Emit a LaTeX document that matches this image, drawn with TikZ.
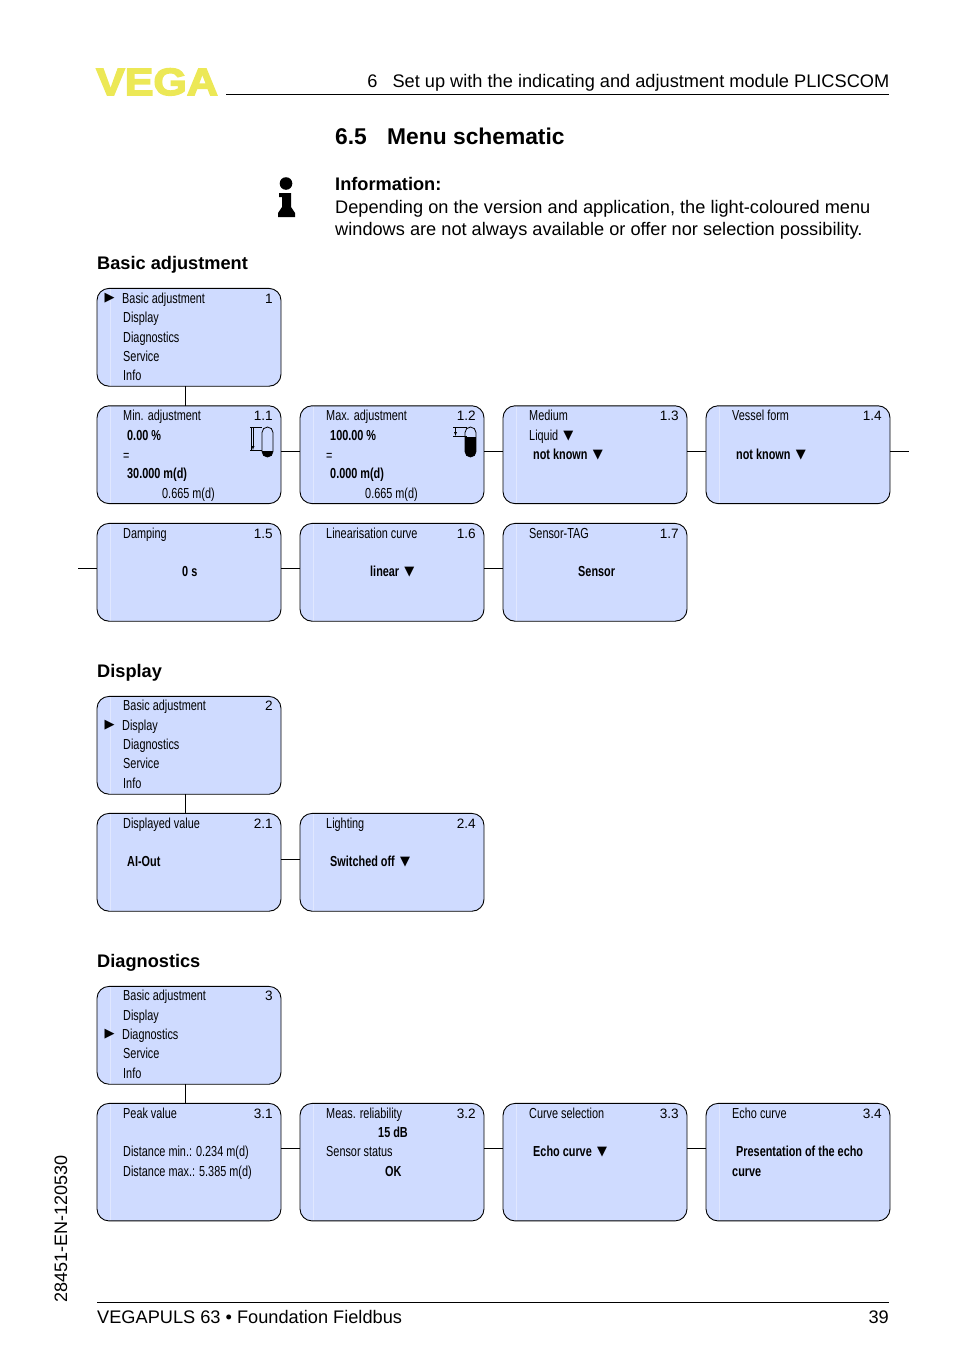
\documentclass[tikz,border=0pt]{standalone}
\usepackage{fontspec}
\setmainfont{Liberation Sans}
\newfontfamily\narrowfont[FakeStretch=0.75]{Liberation Sans}
\newfontfamily\logofont[FakeBold=4,FakeStretch=1.13]{Liberation Sans Bold}
\newfontfamily\symfont{DejaVu Sans}
\definecolor{boxblue}{RGB}{207,219,255}
\definecolor{boxstrip}{RGB}{224,231,255}
\definecolor{vegayellow}{RGB}{236,232,86}
\newcommand{\dn}{{\symfont\fontsize{13}{13}\selectfont\,\raisebox{1pt}{▼}}}
\begin{document}
\begin{tikzpicture}[
    x=1pt, y=-1pt,
    menubox/.style={draw=black, line width=0.9pt, fill=boxblue, rounded corners=12pt, anchor=north west, outer sep=0pt, minimum width=184pt, minimum height=97.8pt, inner sep=0pt,
        path picture={\draw[boxstrip, line width=0.8pt] ([xshift=13pt]path picture bounding box.north west) -- ([xshift=13pt]path picture bounding box.south west);}},
    tallbox/.style={menubox, minimum height=117.5pt},
    menutext/.style={anchor=base west, inner sep=0pt, font=\narrowfont\fontsize{14.5}{16}\selectfont},
    menubold/.style={anchor=base west, inner sep=0pt, font=\narrowfont\bfseries\fontsize{14.5}{16}\selectfont},
    menunum/.style={anchor=base east, inner sep=0pt, font=\fontsize{13.6}{16}\selectfont},
    marker/.style={anchor=center, inner sep=0pt, font=\symfont\fontsize{13}{13}\selectfont},
    heading/.style={anchor=base west, inner sep=0pt, font=\bfseries\fontsize{18.2}{22}\selectfont},
    bodytext/.style={anchor=base west, inner sep=0pt, font=\fontsize{18.2}{22}\selectfont},
    link/.style={draw=black, line width=0.9pt}
]
\useasboundingbox (0,0) rectangle (954,1354);

% page head
\node[anchor=base west, inner sep=0pt, text=vegayellow, font=\logofont\fontsize{38}{38}\selectfont] (logo) at (96,95) {VEGA};
\coordinate (headl) at (226,94.5);
\coordinate (headr) at (889,94.5);
\draw[line width=0.9pt] (headl) -- (headr);
\node[anchor=base east, inner sep=0pt, font=\fontsize{18.2}{22}\selectfont] (chapter) at (889.5,88) {6\hspace{10pt} Set up with the indicating and adjustment module PLICSCOM};
\node[anchor=base west, inner sep=0pt, font=\bfseries\fontsize{22.8}{26}\selectfont] (section) at (335,144.5) {6.5\hspace{14pt} Menu schematic};

% information
\fill (286,183.5) circle (6.3);
\fill (279,193) -- (291,193) -- (291,207) -- (295,213) -- (295,217) -- (278,217) -- (278,213) -- (282,207) -- (282,197) -- (279,197) -- cycle;
\node[heading] (infohead) at (335,190) {Information:};
\node[bodytext] (info1) at (335,213) {Depending on the version and application, the light-coloured menu};
\node[bodytext] (info2) at (335,235) {windows are not always available or offer nor selection possibility.};

% basic adjustment
\node[heading] (basichead) at (97,269) {Basic adjustment};
\node[menubox] (b1) at (97,288.4) {};
\node[menubox] (b11) at (97,405.8) {};
\node[menubox] (b12) at (300,405.8) {};
\node[menubox] (b13) at (503,405.8) {};
\node[menubox] (b14) at (706,405.8) {};
\node[menubox] (b15) at (97,523.4) {};
\node[menubox] (b16) at (300,523.4) {};
\node[menubox] (b17) at (503,523.4) {};
\coordinate (b14out) at (909,451);
\coordinate (b15in) at (78,568);
\draw[link] ([xshift=-4pt]b1.south) -- ([xshift=-4pt]b11.north);
\draw[link] ([yshift=3pt]b11.east) -- ([yshift=3pt]b12.west);
\draw[link] ([yshift=3pt]b12.east) -- ([yshift=3pt]b13.west);
\draw[link] ([yshift=3pt]b13.east) -- ([yshift=3pt]b14.west);
\draw[link] (b14.east |- b14out) -- (b14out);
\draw[link] (b15in) -- (b15.west |- b15in);
\draw[link] ([yshift=4pt]b15.east) -- ([yshift=4pt]b16.west);
\draw[link] ([yshift=4pt]b16.east) -- ([yshift=4pt]b17.west);

\node[marker] (b1m) at (109.5,298) {▶};
\node[menutext] (b1a) at (122,303) {Basic adjustment};
\node[menutext] (b1b) at (123,322) {Display};
\node[menutext] (b1c) at (123,342) {Diagnostics};
\node[menutext] (b1d) at (123,361) {Service};
\node[menutext] (b1e) at (123,380) {Info};
\node[menunum] (b1n) at (273,303) {1};

\node[menutext] (b11a) at (123,420) {Min. adjustment};
\node[menunum] (b11n) at (273,420) {1.1};
\node[menubold] (b11b) at (127,440) {0.00 \%};
\node[menutext] (b11c) at (123,460) {=};
\node[menubold] (b11d) at (127,478) {30.000 m(d)};
\node[menutext] (b11e) at (162,498) {0.665 m(d)};
\begin{scope}
\clip[rounded corners=5.5pt] (262,427) rectangle (273,457);
\fill (262,450.5) rectangle (273,457);
\end{scope}
\draw[line width=0.8pt, rounded corners=5.5pt] (262,427) rectangle (273,457);
\draw[line width=0.7pt] (250,427) -- (262,427);
\draw[line width=0.7pt] (250,450.5) -- (262,450.5);
\draw[line width=0.7pt] (251,427) -- (251,450.5);
\draw[line width=0.4pt, -latex] (253,428) -- (253,450);

\node[menutext] (b12a) at (326,420) {Max. adjustment};
\node[menunum] (b12n) at (476,420) {1.2};
\node[menubold] (b12b) at (330,440) {100.00 \%};
\node[menutext] (b12c) at (326,460) {=};
\node[menubold] (b12d) at (330,478) {0.000 m(d)};
\node[menutext] (b12e) at (365,498) {0.665 m(d)};
\begin{scope}
\clip[rounded corners=5.5pt] (465,427) rectangle (476,457);
\fill (465,436.5) rectangle (476,457);
\end{scope}
\draw[line width=0.8pt, rounded corners=5.5pt] (465,427) rectangle (476,457);
\draw[line width=0.7pt] (453,427) -- (467,427);
\draw[line width=0.7pt] (453,436.5) -- (467,436.5);
\draw[line width=0.4pt, -latex] (455.5,428) -- (455.5,436);

\node[menutext] (b13a) at (529,420) {Medium};
\node[menunum] (b13n) at (679,420) {1.3};
\node[menutext] (b13b) at (529,440) {Liquid \dn};
\node[menubold] (b13c) at (533,459) {not known \dn};

\node[menutext] (b14a) at (732,420) {Vessel form};
\node[menunum] (b14n) at (882,420) {1.4};
\node[menubold] (b14b) at (736,459) {not known \dn};

\node[menutext] (b15a) at (123,538) {Damping};
\node[menunum] (b15n) at (273,538) {1.5};
\node[menubold] (b15b) at (182,576) {0 s};

\node[menutext] (b16a) at (326,538) {Linearisation curve};
\node[menunum] (b16n) at (476,538) {1.6};
\node[menubold] (b16b) at (370,576) {linear \dn};

\node[menutext] (b17a) at (529,538) {Sensor-TAG};
\node[menunum] (b17n) at (679,538) {1.7};
\node[menubold] (b17b) at (578,576) {Sensor};

% display
\node[heading] (disphead) at (97,677) {Display};
\node[menubox] (d2) at (97,696.4) {};
\node[menubox] (d21) at (97,813.4) {};
\node[menubox] (d24) at (300,813.4) {};
\draw[link] ([xshift=-4pt]d2.south) -- ([xshift=-4pt]d21.north);
\draw[link, line width=1.6pt] ([yshift=3pt]d21.east) -- ([yshift=3pt]d24.west);

\node[menutext] (d2a) at (123,710) {Basic adjustment};
\node[marker] (d2m) at (109.5,725) {▶};
\node[menutext] (d2b) at (122,730) {Display};
\node[menutext] (d2c) at (123,749) {Diagnostics};
\node[menutext] (d2d) at (123,768) {Service};
\node[menutext] (d2e) at (123,788) {Info};
\node[menunum] (d2n) at (273,710) {2};

\node[menutext] (d21a) at (123,828) {Displayed value};
\node[menunum] (d21n) at (273,828) {2.1};
\node[menubold] (d21b) at (127,866) {AI-Out};

\node[menutext] (d24a) at (326,828) {Lighting};
\node[menunum] (d24n) at (476,828) {2.4};
\node[menubold] (d24b) at (330,866) {Switched off \dn};

% diagnostics
\node[heading] (diaghead) at (97,967) {Diagnostics};
\node[menubox] (g3) at (97,986.4) {};
\node[tallbox] (g31) at (97,1103.4) {};
\node[tallbox] (g32) at (300,1103.4) {};
\node[tallbox] (g33) at (503,1103.4) {};
\node[tallbox] (g34) at (706,1103.4) {};
\draw[link] ([xshift=-4pt]g3.south) -- ([xshift=-4pt]g31.north);
\draw[link] ([yshift=14pt]g31.east) -- ([yshift=14pt]g32.west);
\draw[link] ([yshift=14pt]g32.east) -- ([yshift=14pt]g33.west);
\draw[link] ([yshift=14pt]g33.east) -- ([yshift=14pt]g34.west);

\node[menutext] (g3a) at (123,1000) {Basic adjustment};
\node[menutext] (g3b) at (123,1020) {Display};
\node[marker] (g3m) at (109.5,1034) {▶};
\node[menutext] (g3c) at (122,1039) {Diagnostics};
\node[menutext] (g3d) at (123,1058) {Service};
\node[menutext] (g3e) at (123,1078) {Info};
\node[menunum] (g3n) at (273,1000) {3};

\node[menutext] (g31a) at (123,1118) {Peak value};
\node[menunum] (g31n) at (273,1118) {3.1};
\node[menutext] (g31b) at (123,1156) {Distance min.: 0.234 m(d)};
\node[menutext] (g31c) at (123,1176) {Distance max.: 5.385 m(d)};

\node[menutext] (g32a) at (326,1118) {Meas. reliability};
\node[menunum] (g32n) at (476,1118) {3.2};
\node[menubold] (g32b) at (378,1137) {15 dB};
\node[menutext] (g32c) at (326,1156) {Sensor status};
\node[menubold] (g32d) at (385,1176) {OK};

\node[menutext] (g33a) at (529,1118) {Curve selection};
\node[menunum] (g33n) at (679,1118) {3.3};
\node[menubold] (g33b) at (533,1156) {Echo curve \dn};

\node[menutext] (g34a) at (732,1118) {Echo curve};
\node[menunum] (g34n) at (882,1118) {3.4};
\node[menubold] (g34b) at (736,1156) {Presentation of the echo};
\node[menubold] (g34c) at (732,1176) {curve};

% page foot
\node[anchor=base west, inner sep=0pt, rotate=90, font=\fontsize{18}{22}\selectfont] (docno) at (67,1303) {28451-EN-120530};
\coordinate (footl) at (97,1302);
\coordinate (footr) at (889,1302);
\draw[line width=0.9pt] (footl) -- (footr);
\node[anchor=base west, inner sep=0pt, font=\fontsize{18.2}{22}\selectfont] (foot) at (97,1323) {VEGAPULS 63 • Foundation Fieldbus};
\node[anchor=base east, inner sep=0pt, font=\fontsize{18.2}{22}\selectfont] (page) at (889,1323) {39};
\end{tikzpicture}
\end{document}
